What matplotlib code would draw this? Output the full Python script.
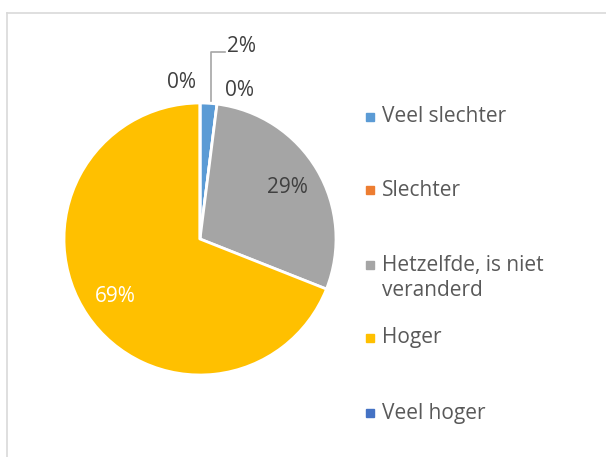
import numpy as np
import matplotlib.pyplot as plt
from matplotlib.lines import Line2D

# data
categories = ["Veel slechter", "Slechter", "Hetzelfde, is niet\nveranderd", "Hoger", "Veel hoger"]
values = [2, 0, 29, 69, 0]
labels = ["2%", "0%", "29%", "69%", "0%"]
colors = ["#5B9BD5", "#ED7D31", "#A5A5A5", "#FFC000", "#4472C4"]

plt.rcParams['font.family'] = ['Open Sans', 'DejaVu Sans']

W, H = 606, 457
CX, CY, R = 200, 239, 136


def px(x, y):
    # pixel (top-left origin) -> data coords (pie centre at origin, radius 1)
    return (x - CX) / R, (CY - y) / R


fig = plt.figure(figsize=(W / 100, H / 100), dpi=100)
ax = fig.add_axes([0, 0, 1, 1])

wedges, _ = ax.pie(values, colors=colors, startangle=90, counterclock=False,
                   radius=1, wedgeprops=dict(edgecolor="white", linewidth=2))

# labels inside the big slices
for w, lab, v in zip(wedges, labels, values):
    if v < 10:
        continue
    mid = np.deg2rad((w.theta1 + w.theta2) / 2)
    col = "white" if v > 50 else "#404040"
    ax.text(0.75 * np.cos(mid), 0.75 * np.sin(mid), lab, ha="center", va="center",
            fontsize=15, color=col)

# small slice labels outside
w0 = wedges[0]
mid0 = np.deg2rad((w0.theta1 + w0.theta2) / 2)
x0 = 1.02 * np.cos(mid0) + 0.02
yk = px(0, 52)[1]
ax.plot([x0, x0, px(225, 0)[0]], [1.02 * np.sin(mid0), yk, yk], color="#A6A6A6", lw=1.2)
ax.text(*px(241, 47), labels[0], ha="center", va="center", fontsize=15, color="#404040")
ax.text(*px(181, 82), labels[1], ha="center", va="center", fontsize=15, color="#404040")
ax.text(*px(240, 90), labels[4], ha="center", va="center", fontsize=15, color="#404040")

# legend
leg_y = [117, 190, 265, 338, 413]
line_gap = 27
for cat, col, y in zip(categories, colors, leg_y):
    n_extra = cat.count("\n")
    ax.plot(*px(370, y), marker="s", markersize=6, color=col, linestyle="none")
    ax.text(*px(382, y + n_extra * line_gap / 2), cat, ha="left", va="center",
            fontsize=15, color="#595959", linespacing=1.25)

ax.set_xlim(px(0, 0)[0], px(W, 0)[0])
ax.set_ylim(px(0, H)[1], px(0, 0)[1])
ax.set_aspect("auto")
ax.axis("off")

# chart border (top and left visible)
fig.add_artist(Line2D([7 / W, 1], [1 - 13 / H, 1 - 13 / H], color="#D9D9D9", lw=1.2))
fig.add_artist(Line2D([7 / W, 7 / W], [0, 1 - 13 / H], color="#D9D9D9", lw=1.2))

fig.savefig("out.png", dpi=100)
